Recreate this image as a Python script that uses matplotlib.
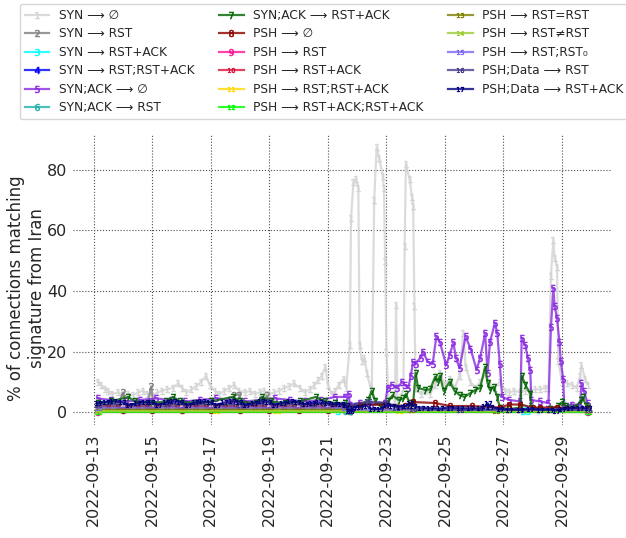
import matplotlib
matplotlib.use("Agg")
import matplotlib.pyplot as plt
import matplotlib.dates as mdates
import pandas as pd
from matplotlib.colors import to_rgba

plt.rcParams['font.family'] = ['DejaVu Sans']

START = pd.Timestamp("2022-09-13 00:00")

labels = ["SYN ⟶ ∅", "SYN ⟶ RST", "SYN ⟶ RST+ACK", "SYN ⟶ RST;RST+ACK",
          "SYN;ACK ⟶ ∅", "SYN;ACK ⟶ RST", "SYN;ACK ⟶ RST+ACK",
          "PSH ⟶ ∅", "PSH ⟶ RST", "PSH ⟶ RST+ACK", "PSH ⟶ RST;RST+ACK",
          "PSH ⟶ RST+ACK;RST+ACK", "PSH ⟶ RST=RST", "PSH ⟶ RST≠RST",
          "PSH ⟶ RST;RST₀", "PSH;Data ⟶ RST", "PSH;Data ⟶ RST+ACK"]

colors = ["lightgray", "gray", "cyan", "blue", "blueviolet", "lightseagreen",
          "darkgreen", "darkred", "deeppink", "crimson", "gold", "lime",
          "olive", "yellowgreen", "mediumslateblue", "darkslateblue", "navy"]

# hours since 2022-09-13 00:00 and % values
syn_none_h = [3, 6, 9, 12, 15, 20, 24, 28, 32, 36,
              40, 44, 48, 52, 56, 60, 65, 69, 72, 76,
              80, 84, 88, 92, 95, 99, 103, 107, 111, 115,
              119, 124, 128, 132, 136, 140, 144, 148, 152, 156,
              160, 164, 169, 173, 177, 181, 184, 187, 190, 192,
              195, 198, 201, 205, 207, 210, 211, 213, 215, 217,
              218, 220, 222, 224, 227, 228, 230, 232, 234, 237,
              238, 239, 240, 242, 245, 247, 248, 249, 252, 254,
              255, 256, 259, 261, 262, 263, 264, 268, 272, 276,
              280, 284, 288, 292, 296, 300, 303, 305, 309, 313,
              317, 322, 325, 329, 333, 337, 341, 345, 350, 354,
              358, 362, 366, 370, 373, 375, 377, 378, 380, 381,
              384, 388, 392, 396, 399, 400, 403, 405]
syn_none_v = [10, 9, 7.5, 7, 6, 6.5, 5.5, 6, 5.5, 6.5,
              7, 6, 5.5, 6.5, 7, 7.5, 8, 9.5, 8, 6.5,
              7.5, 8.5, 10, 12, 9, 7, 6, 7, 8, 9,
              7, 6.5, 7, 6, 6.5, 7, 6, 6.5, 7, 8,
              8.5, 9.5, 8, 6.5, 7.5, 9, 10.5, 12, 15, 9,
              6, 7, 9, 11, 8, 22, 64, 76, 77, 74,
              22, 17, 18, 13, 8, 6, 70, 87.5, 84, 78,
              74, 50, 20, 3, 2, 3, 35.5, 4, 5, 8,
              55, 82, 77, 71, 68, 35, 8, 6, 7, 6,
              9, 13, 9, 11, 8, 12, 26, 15, 10, 8,
              10, 13, 9, 8, 10, 7, 6.5, 7, 6.5, 7,
              7, 7.5, 7.5, 8, 8, 45, 57, 51, 48, 17,
              10, 9.5, 9, 8, 12, 15.5, 11, 9]

syn_rst_h = [3, 20, 24, 26, 44, 47, 49, 112, 115, 119, 122, 138, 142, 145, 206, 210, 405]
syn_rst_v = [2.5, 2.5, 6.5, 2.5, 2.5, 8.5, 2.5, 2.5, 5.5, 5.8, 2.5, 2.5, 5.5, 2.5, 2.5, 0.5, 0.5]

syn_rstack_h = [3, 200, 352, 354, 356, 405]
syn_rstack_v = [0.3, 0.3, 0.3, 1.3, 0.3, 0.2]

syn_rst_rstack_h = [3, 206, 210, 405]
syn_rst_rstack_v = [0.6, 0.6, 0.3, 0.3]

synack_none_h = [3, 14, 26, 38, 51, 63, 75, 87, 100, 112,
                 124, 137, 149, 161, 173, 186, 198, 206, 209, 210,
                 218, 227, 235, 239, 241, 245, 249, 253, 255, 258,
                 260, 262, 264, 268, 270, 274, 278, 281, 284, 289,
                 292, 295, 297, 300, 305, 309, 314, 317, 321, 323,
                 325, 329, 331, 333, 335, 341, 350, 351, 354, 356,
                 358, 359, 366, 373, 375, 377, 378, 380, 382, 383,
                 385, 386, 392, 399, 400, 402, 405]
synack_none_v = [4.5, 4.0, 3.5, 4.0, 4.5, 4.0, 3.5, 4.0, 4.5, 4.0,
                 3.5, 4.0, 4.5, 4.0, 3.5, 4.0, 5.0, 5.0, 6.0, 2.5,
                 3.0, 2.5, 2.5, 3.0, 8.0, 9.0, 8.0, 10.0, 9.0, 8.0,
                 12.0, 16.5, 16.0, 18.0, 20.0, 16.5, 16.0, 25.0, 23.0, 15.5,
                 19.0, 23.0, 18.0, 14.5, 25.0, 21.0, 14.0, 18.0, 26.0, 13.0,
                 23.0, 29.5, 26.0, 16.0, 5.0, 4.0, 3.5, 24.5, 22.0, 18.0,
                 14.0, 4.0, 3.5, 3.0, 28.0, 41.0, 35.0, 31.0, 23.0, 17.0,
                 11.0, 2.0, 2.5, 2.5, 9.5, 7.0, 3.0]

synack_rst_h = [3, 206, 210, 405]
synack_rst_v = [0.4, 0.4, 0.2, 0.2]

synack_rstack_h = [3, 14, 28, 34, 47, 59, 65, 71, 83, 96,
                   114, 120, 133, 138, 145, 157, 169, 182, 190, 198,
                   206, 210, 218, 225, 228, 231, 235, 241, 245, 250,
                   254, 256, 259, 262, 264, 266, 272, 276, 280, 282,
                   284, 287, 292, 296, 300, 304, 309, 313, 317, 321,
                   323, 325, 328, 331, 333, 341, 350, 351, 354, 358,
                   359, 366, 374, 381, 384, 387, 395, 400, 401, 404,
                   405]
synack_rstack_v = [3, 3.5, 5, 3.5, 3, 3.5, 5, 3.5, 3, 3.5,
                   5, 3.5, 3, 5, 3.5, 3, 3.5, 5, 3.5, 3,
                   3, 1.5, 2, 4, 7, 3.5, 2, 3.5, 5.5, 4,
                   4.5, 6, 3, 3, 13, 8, 7.3, 7.5, 11.7, 10,
                   12, 7, 10, 7, 5.6, 5, 6.3, 7.3, 8, 15,
                   9.6, 7.3, 8.3, 5, 1.5, 1, 1.5, 12, 9, 6,
                   1.5, 1, 1, 2, 3.3, 2, 1.5, 4, 5, 2,
                   1.5]

psh_none_h = [3, 12, 20, 24, 27, 36, 44, 48, 51, 60,
              68, 72, 75, 84, 92, 96, 99, 108, 116, 120,
              123, 132, 140, 144, 147, 156, 164, 168, 171, 180,
              188, 192, 195, 204, 209, 218, 240, 255, 262, 280,
              292, 310, 333, 341, 350, 360, 366, 380, 405]
psh_none_v = [1.8, 1.8, 1.8, 0.8, 1.8, 1.8, 1.8, 0.8, 1.8, 1.8,
              1.8, 0.8, 1.8, 1.8, 1.8, 0.8, 1.8, 1.8, 1.8, 0.8,
              1.8, 1.8, 1.8, 0.8, 1.8, 1.8, 1.8, 0.8, 1.8, 1.8,
              1.8, 0.8, 1.8, 1.8, 1.5, 2.5, 2.5, 2.0, 3.3, 3.0,
              2.0, 2.0, 1.5, 2.5, 2.5, 1.5, 1.5, 1.5, 1.0]

psh_rst_h = [3, 405]
psh_rst_v = [0.1, 0.1]

psh_rstack_h = [3, 405]
psh_rstack_v = [0.2, 0.2]

psh_rst_rstack_h = [3, 100, 150, 250, 405]
psh_rst_rstack_v = [0.3, 0.3, 0.3, 0.2, 0.5]

psh_rstack2_h = [3, 405]
psh_rstack2_v = [0.15, 0.15]

psh_rst_eq_h = [3, 100, 206, 210, 260, 330, 405]
psh_rst_eq_v = [1.0, 1.0, 1.0, 0.4, 0.6, 0.5, 0.8]

psh_rst_ne_h = [3, 405]
psh_rst_ne_v = [0.5, 0.5]

psh_rst_rst0_h = [3, 206, 210, 405]
psh_rst_rst0_v = [1.5, 1.5, 0.8, 0.8]

pshdata_rst_h = [3, 60, 120, 180, 206, 209, 213, 225, 240, 248, 262, 300, 350, 405]
pshdata_rst_v = [2.5, 2.6, 2.5, 2.6, 2.5, 1.0, 2.5, 3.5, 3.0, 1.5, 1.0, 0.8, 0.8, 0.8]

pshdata_rstack_h = [3, 10, 16, 23, 29, 35, 42, 47, 53, 59,
                    65, 71, 77, 83, 89, 95, 101, 107, 113, 119,
                    125, 131, 137, 143, 149, 155, 161, 167, 173, 179,
                    185, 191, 197, 203, 207, 209, 211, 213, 218, 224,
                    228, 235, 240, 245, 251, 256, 259, 262, 268, 276,
                    284, 292, 300, 309, 317, 321, 323, 325, 333, 341,
                    350, 358, 366, 374, 379, 384, 391, 399, 405]
pshdata_rstack_v = [3, 3.3, 3.5, 3.3, 2.2, 3, 3.4, 3.3, 2.4, 3.2,
                    3.5, 3.3, 2.3, 3.2, 3.5, 3.3, 2.3, 3.2, 3.5, 3.3,
                    2.3, 3.1, 3.5, 3.3, 2.4, 3.1, 3.5, 3.3, 2.6, 3.0,
                    3.2, 3.0, 2.6, 2.6, 2.3, 0.3, 0.3, 1.5, 1.8, 2.0,
                    1.0, 1.0, 2.2, 2.0, 1.8, 2.0, 3.0, 2.0, 1.5, 1.3,
                    1.2, 1.5, 1.3, 1.2, 1.2, 2.0, 3.0, 1.8, 1.0, 0.8,
                    0.8, 1.0, 0.8, 0.8, 0.5, 1.0, 1.3, 1.5, 1.3]

series_h = [syn_none_h, syn_rst_h, syn_rstack_h, syn_rst_rstack_h, synack_none_h,
            synack_rst_h, synack_rstack_h, psh_none_h, psh_rst_h, psh_rstack_h,
            psh_rst_rstack_h, psh_rstack2_h, psh_rst_eq_h, psh_rst_ne_h,
            psh_rst_rst0_h, pshdata_rst_h, pshdata_rstack_h]
series_v = [syn_none_v, syn_rst_v, syn_rstack_v, syn_rst_rstack_v, synack_none_v,
            synack_rst_v, synack_rstack_v, psh_none_v, psh_rst_v, psh_rstack_v,
            psh_rst_rstack_v, psh_rstack2_v, psh_rst_eq_v, psh_rst_ne_v,
            psh_rst_rst0_v, pshdata_rst_v, pshdata_rstack_v]

W, H = 626, 538
fig = plt.figure(figsize=(W / 100, H / 100), dpi=100)
ax = fig.add_axes([73 / W, 1 - 425 / H, 539 / W, 291 / H])

for i, (lab, col, hh, vv) in enumerate(zip(labels, colors, series_h, series_v)):
    t = START + pd.to_timedelta(hh, unit="h")
    lw = 3.0 if col == "navy" else 2.2
    ax.plot(t, vv, color=to_rgba(col, 0.8), lw=lw, marker=f"${i + 1}$", ms=5,
            mfc=col, mec=col, mew=0.4, label=lab)

ax.xaxis.set_major_locator(mdates.DayLocator(bymonthday=[13, 15, 17, 19, 21, 23, 25, 27, 29]))
ax.xaxis.set_major_formatter(mdates.DateFormatter("%Y-%m-%d"))
ax.set_yticks([0, 20, 40, 60, 80])
ax.tick_params(axis="x", labelrotation=90, pad=6)
ax.tick_params(axis="y", pad=4)
ax.tick_params(length=0, labelsize=11.5, labelcolor="0.15")
ax.grid(True, ls=":", color="0.3", lw=0.8)
for s in ax.spines.values():
    s.set_visible(False)
ax.set_ylabel("% of connections matching\nsignature from Iran", fontsize=12, color="0.15")
ax.yaxis.set_label_coords(-0.05, 0.47)

handles, labs = ax.get_legend_handles_labels()
for hnd in handles:
    hnd.set_linewidth(1.6)
fig.legend(loc="upper left", bbox_to_anchor=(20 / W, 1 - 4 / H), ncol=3, fontsize=8.8,
           borderaxespad=0, labelspacing=0.45, labelcolor="0.15")

fig.savefig("out.png", dpi=100)
